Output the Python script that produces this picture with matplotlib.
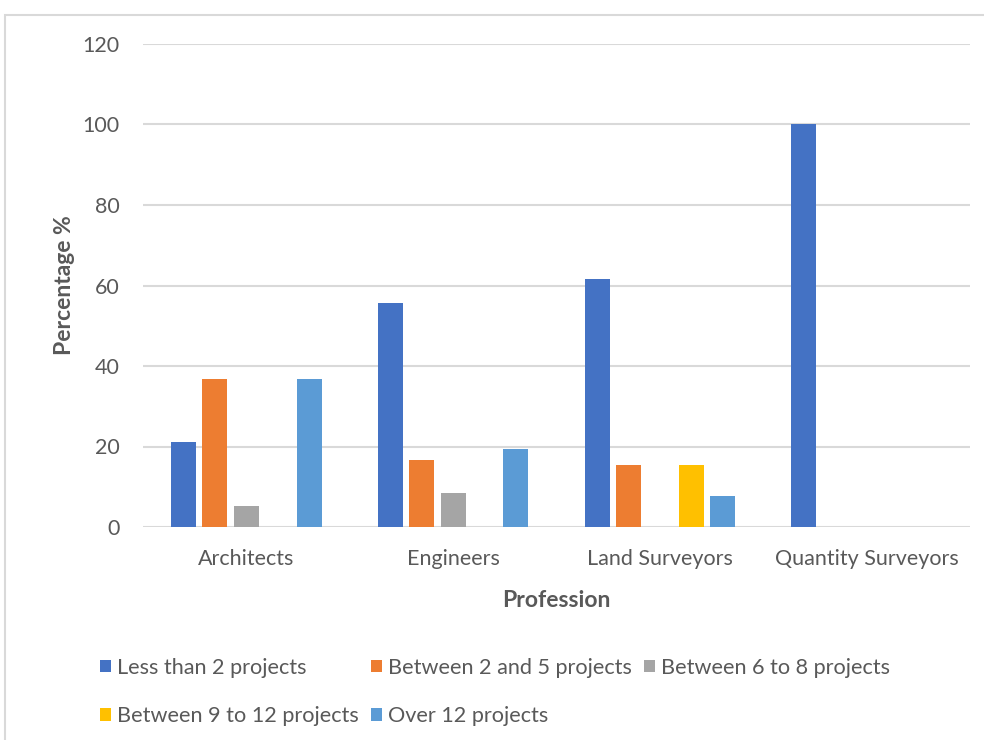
import matplotlib
matplotlib.use("Agg")
import matplotlib.pyplot as plt
import numpy as np
from matplotlib.patches import Rectangle

# survey shares per profession, by number of projects handled
professions = ["Architects", "Engineers", "Land Surveyors", "Quantity Surveyors"]
series_names = ["Less than 2 projects", "Between 2 and 5 projects",
                "Between 6 to 8 projects", "Between 9 to 12 projects",
                "Over 12 projects"]
less_than_2 = [21.05, 55.56, 61.54, 100.0]
between_2_5 = [36.84, 16.67, 15.38, 0.0]
between_6_8 = [5.26, 8.33, 0.0, 0.0]
between_9_12 = [0.0, 0.0, 15.38, 0.0]
over_12 = [36.84, 19.44, 7.69, 0.0]
yticks = [0, 20, 40, 60, 80, 100, 120]

series = [less_than_2, between_2_5, between_6_8, between_9_12, over_12]
colors = ["#4472C4", "#ED7D31", "#A5A5A5", "#FFC000", "#5B9BD5"]

plt.rcParams['font.family'] = ['Lato', 'DejaVu Sans']
text_grey = "#595959"

fig = plt.figure(figsize=(9.84, 7.4), dpi=100)
# outer chart frame
fig.patches.append(Rectangle((5 / 984, -0.1), 1.2, 1 - 15 / 740 + 0.1,
                             transform=fig.transFigure, fill=False,
                             edgecolor="#d9d9d9", linewidth=1.5))

ax = fig.add_axes([143 / 984, 213 / 740, 827 / 984, 483 / 740])

x = np.arange(len(professions))
step = 0.152
width = 0.121
handles = []
for i, (vals, name, col) in enumerate(zip(series, series_names, colors)):
    b = ax.bar(x + (i - 2) * step, vals, width, color=col, label=name, zorder=3)
    handles.append(b)

ax.set_xlim(-0.5, 3.5)
ax.set_ylim(0, 120)
ax.set_yticks(yticks)
ax.set_xticks(x)
ax.set_xticklabels(professions)
ax.grid(axis="y", color="#d9d9d9", linewidth=1.5, zorder=0)
for s in ax.spines.values():
    s.set_visible(False)
ax.tick_params(length=0, labelsize=15.5, labelcolor=text_grey)
ax.tick_params(axis="y", pad=17)
ax.tick_params(axis="x", pad=16)

ax.set_ylabel("Percentage %", fontsize=16.5, fontweight="bold", color=text_grey, labelpad=5)
ax.set_xlabel("Profession", fontsize=16.5, fontweight="bold", color=text_grey, labelpad=15)

# legend rows read left to right
order = [0, 3, 1, 4, 2]
fig.legend([handles[k] for k in order], [series_names[k] for k in order],
           ncol=3, loc="upper left", bbox_to_anchor=(100 / 984, 1 - 658 / 740),
           frameon=False, fontsize=15.6, handlelength=0.5, handleheight=0.5,
           handletextpad=0.3, columnspacing=0.55, labelspacing=1.3,
           borderpad=0, borderaxespad=0, labelcolor=text_grey)

fig.savefig("out.png", dpi=100)
